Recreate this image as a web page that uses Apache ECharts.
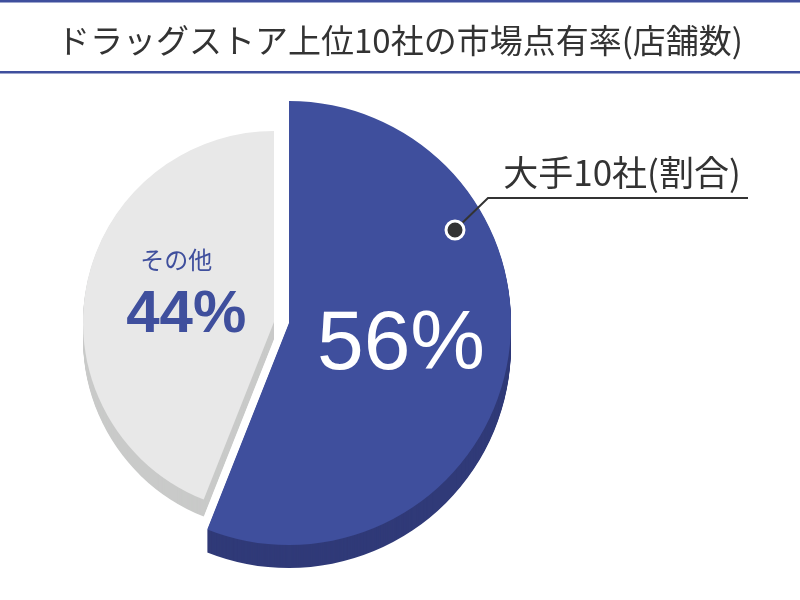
<!DOCTYPE html>
<html>
<head>
<meta charset="utf-8">
<script src="https://cdn.jsdelivr.net/npm/echarts@6/dist/echarts.min.js"></script>
<style>
  html, body { margin: 0; padding: 0; background: #fff; }
  #chart { width: 800px; height: 600px; }
</style>
</head>
<body>
<div id="chart"></div>
<script>
// データ
var categories = ['大手10社', 'その他'];
var shares = [56, 44];
var titleText = 'ドラッグストア上位10社の市場点有率(店舗数)';
var calloutText = '大手10社(割合)';

var BLUE = '#3f4f9d', BLUE_SIDE = '#303a78';
var GREY = '#e8e8e8', GREY_SIDE = '#c9cac9';
var JP = '"Noto Sans CJK JP", "Noto Sans", sans-serif';
var NUM = '"Liberation Sans", Arial, sans-serif';

var myChart = echarts.init(document.getElementById('chart'));

// 1つのスライスだけを描くパイ（もう一方は透明）
function slicePie(idx, center, radius, color, label, z) {
    return {
        type: 'pie',
        center: center,
        radius: radius,
        startAngle: 90,
        clockwise: true,
        silent: true,
        animation: false,
        z: z,
        emphasis: { disabled: true },
        labelLine: { show: false },
        data: categories.map(function (name, i) {
            return {
                name: name,
                value: shares[i],
                itemStyle: { color: i === idx ? color : 'rgba(0,0,0,0)' },
                label: i === idx && label ? label : { show: false }
            };
        })
    };
}

var series = [];
// 立体の側面（少しずつ下にずらして重ねる）
for (var k = 23; k >= 1; k--) {
    series.push(slicePie(0, [289, 323 + k], 222, BLUE_SIDE, null, 1));
}
for (var k2 = 17; k2 >= 1; k2--) {
    series.push(slicePie(1, [274, 322 + k2], 191, GREY_SIDE, null, 1));
}
// 上面
series.push(slicePie(0, [289, 323], 222, BLUE, {
    show: true,
    position: 'inside',
    formatter: '{c}%',
    color: '#fff',
    fontFamily: NUM,
    fontSize: 84,
    offset: [0, 1]
}, 2));
series.push(slicePie(1, [274, 322], 191, GREY, {
    show: true,
    position: 'inside',
    formatter: function (p) { return '{a|' + p.name + '}\n{b|' + p.value + '%}'; },
    offset: [-1, -8],
    rich: {
        a: { color: BLUE, fontFamily: JP, fontSize: 24, lineHeight: 40, align: 'center' },
        b: { color: BLUE, fontFamily: NUM, fontSize: 60, fontWeight: 'bold', lineHeight: 72,
             align: 'center', padding: [0, 0, 0, 20] }
    }
}, 2));

var option = {
    backgroundColor: '#fff',
    title: {
        text: titleText,
        left: 'center',
        top: 19,
        textStyle: { color: '#333', fontFamily: JP, fontSize: 33, fontWeight: 'normal' }
    },
    graphic: [
        { type: 'rect', shape: { x: 0, y: 0, width: 800, height: 2.5 }, style: { fill: BLUE } },
        { type: 'rect', shape: { x: 0, y: 71, width: 800, height: 2.5 }, style: { fill: BLUE } },
        { type: 'polyline', z: 10, shape: { points: [[456, 229], [488, 198], [748, 198]] },
          style: { stroke: '#333', lineWidth: 2, fill: null } },
        { type: 'circle', z: 11, shape: { cx: 455, cy: 230, r: 9 },
          style: { fill: '#333', stroke: '#fff', lineWidth: 3 } },
        { type: 'text', z: 10, x: 622, y: 173,
          style: { text: calloutText, fill: '#333', fontFamily: JP, fontSize: 35,
                   textAlign: 'center', textVerticalAlign: 'middle' } }
    ],
    series: series
};

myChart.setOption(option);
</script>
</body>
</html>
